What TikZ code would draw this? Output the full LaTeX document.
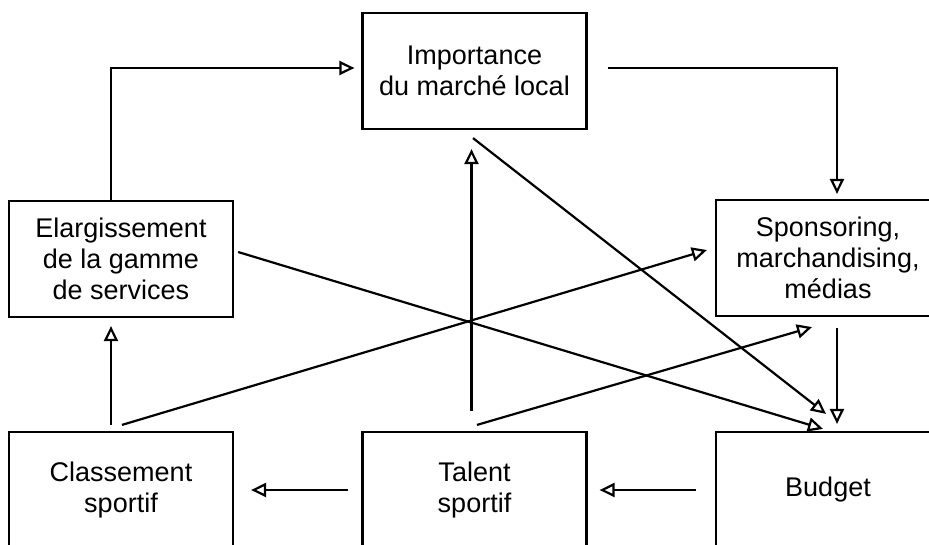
\documentclass[tikz,border=0pt]{standalone}
\usepackage{fontspec}
\setmainfont{Liberation Sans}
\usetikzlibrary{arrows.meta,calc}
\begin{document}
\begin{tikzpicture}[x=1pt,y=-1pt,
  box/.style={draw,line width=2.2pt,minimum width=224pt,minimum height=116pt,inner sep=0pt,align=center,font=\fontsize{27}{31}\selectfont},
  conn/.style={line width=2.2pt,-{Triangle[open,length=15pt,width=14pt,line width=2.2pt]}}]
\useasboundingbox (0,0) rectangle (929,544);
\clip (0,0) rectangle (929,544);
\node[box] (imp) at (474.5,71) {Importance\\du marché local};
\node[box] (ela) at (121,259) {Elargissement\\de la gamme\\de services};
\node[box] (spo) at (828,258) {Sponsoring,\\marchandising,\\médias};
\node[box] (cla) at (121,490) {Classement\\sportif};
\node[box] (tal) at (474.5,490) {Talent\\sportif};
\node[box] (bud) at (828,490) {Budget};
\draw[conn] ($(ela.north)+(-10,0)$) |- ($(imp.west)+(-7,-3)$);
\draw[conn] ($(imp.east)+(20,-3)$) -| ($(spo.north)+(9,-5)$);
\draw[conn] ($(spo.south)+(9,11)$) -- ($(bud.north)+(9,-7)$);
\draw[conn] ($(imp.south)+(-1.5,8)$) -- ($(bud.north)+(-2,-17)$);
\draw[conn] ($(ela.east)+(4,-7)$) -- ($(bud.north)+(-5,-2)$);
\draw[conn] ($(cla.north)+(1,-6)$) -- ($(spo.west)+(-8,-8)$);
\draw[conn] ($(tal.north)+(2.5,-6)$) -- ($(spo.south)+(-16,10)$);
\draw[conn] ($(tal.north)+(-3,-20)$) -- ($(imp.south)+(-3,19)$);
\draw[conn] ($(cla.north)+(-10,-6)$) -- ($(ela.south)+(-10,8)$);
\draw[conn] ($(tal.west)+(-13,0)$) -- ($(cla.east)+(17,0)$);
\draw[conn] ($(bud.west)+(-19,0)$) -- ($(tal.east)+(12,0)$);
\end{tikzpicture}
\end{document}
